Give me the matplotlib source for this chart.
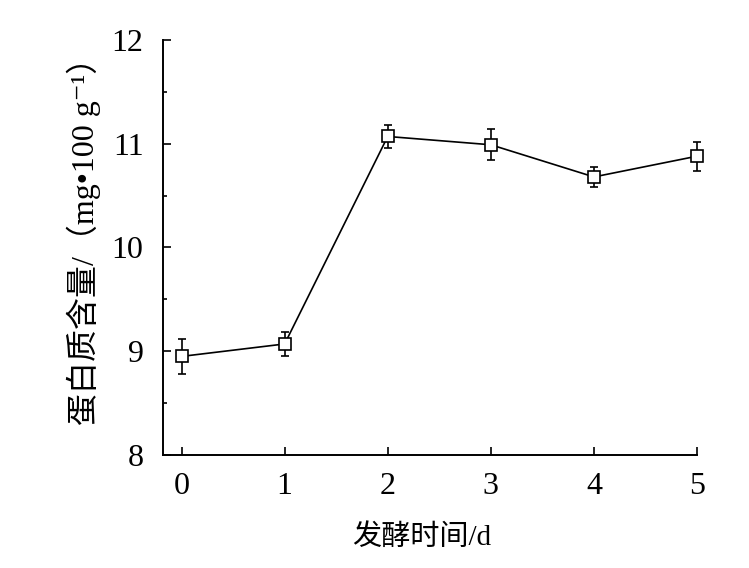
import matplotlib
matplotlib.use("Agg")
import matplotlib.pyplot as plt
from matplotlib.ticker import MultipleLocator

days = [0, 1, 2, 3, 4, 5]
protein = [8.95, 9.07, 11.07, 10.99, 10.68, 10.88]
protein_err = [0.17, 0.12, 0.11, 0.15, 0.10, 0.14]

plt.rcParams['font.family'] = ['Liberation Serif', 'Noto Sans CJK SC', 'DejaVu Sans']

fig = plt.figure(figsize=(7.49, 5.68), dpi=100)
ax = fig.add_axes([0.2176, 0.199, 0.713, 0.7306])

ax.errorbar(days, protein, yerr=protein_err, color='black', lw=1.2,
            marker='s', ms=8, mfc='white', mec='black', mew=1.2,
            capsize=3, elinewidth=1.2, capthick=1.2, clip_on=False, zorder=3)

ax.set_xlim(-0.18, 5.0)
ax.set_ylim(8, 12)
ax.set_xticks(days)
ax.yaxis.set_major_locator(MultipleLocator(1))
ax.yaxis.set_minor_locator(MultipleLocator(0.5))

for s in ['top', 'right']:
    ax.spines[s].set_visible(False)
for s in ['left', 'bottom']:
    ax.spines[s].set_linewidth(1.4)

ax.tick_params(direction='in', labelsize=23, width=1.2, length=6)
ax.tick_params(axis='x', pad=12)
ax.tick_params(axis='y', pad=14)
ax.tick_params(axis='y', which='minor', direction='in', width=1.2, length=3)

ax.set_xlabel('发酵时间/d', fontsize=21, labelpad=17)
ax.xaxis.label.set_x(0.485)
ax.set_ylabel('蛋白质含量/（mg•100 g⁻¹）', fontsize=23, labelpad=8)
ax.yaxis.label.set_y(0.535)

fig.savefig('out.png', dpi=100)
